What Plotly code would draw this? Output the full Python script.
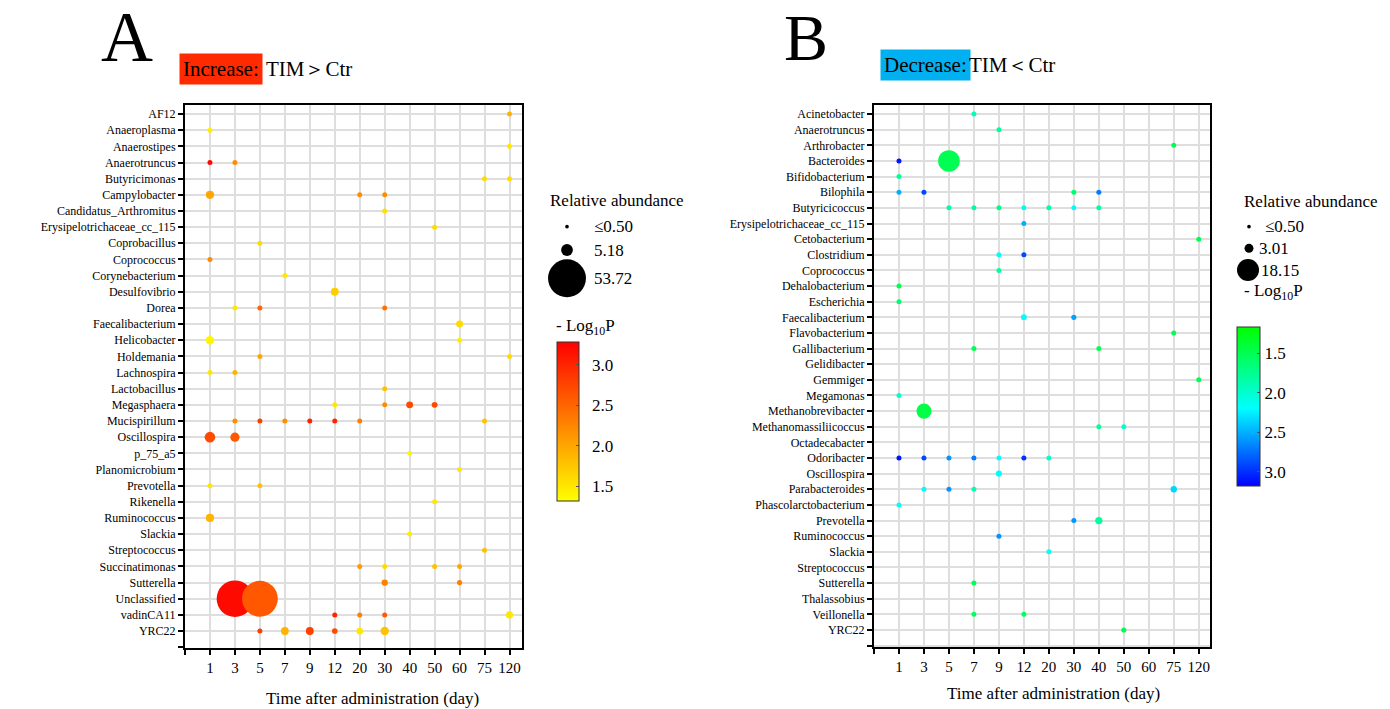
import plotly.graph_objects as go

FONT = "Liberation Serif"
W, H = 1390, 709

days = ["1", "3", "5", "7", "9", "12", "20", "30", "40", "50", "60", "75", "120"]

# ---------------- Panel A (increase) ----------------
a_genera = ["AF12", "Anaeroplasma", "Anaerostipes", "Anaerotruncus", "Butyricimonas",
            "Campylobacter", "Candidatus_Arthromitus", "Erysipelotrichaceae_cc_115",
            "Coprobacillus", "Coprococcus", "Corynebacterium", "Desulfovibrio", "Dorea",
            "Faecalibacterium", "Helicobacter", "Holdemania", "Lachnospira", "Lactobacillus",
            "Megasphaera", "Mucispirillum", "Oscillospira", "p_75_a5", "Planomicrobium",
            "Prevotella", "Rikenella", "Ruminococcus", "Slackia", "Streptococcus",
            "Succinatimonas", "Sutterella", "Unclassified", "vadinCA11", "YRC22"]

a_pt_genus = ["AF12", "Anaeroplasma", "Anaerostipes", "Anaerotruncus", "Anaerotruncus",
              "Butyricimonas", "Butyricimonas", "Campylobacter", "Campylobacter", "Campylobacter",
              "Candidatus_Arthromitus", "Erysipelotrichaceae_cc_115", "Coprobacillus",
              "Coprococcus", "Corynebacterium", "Desulfovibrio", "Dorea", "Dorea", "Dorea",
              "Faecalibacterium", "Helicobacter", "Helicobacter", "Holdemania", "Holdemania",
              "Lachnospira", "Lachnospira", "Lactobacillus", "Megasphaera", "Megasphaera",
              "Megasphaera", "Megasphaera", "Mucispirillum", "Mucispirillum", "Mucispirillum",
              "Mucispirillum", "Mucispirillum", "Mucispirillum", "Mucispirillum",
              "Oscillospira", "Oscillospira", "p_75_a5", "Planomicrobium", "Prevotella",
              "Prevotella", "Rikenella", "Ruminococcus", "Slackia", "Streptococcus",
              "Succinatimonas", "Succinatimonas", "Succinatimonas", "Succinatimonas",
              "Sutterella", "Sutterella", "Unclassified", "Unclassified", "vadinCA11",
              "vadinCA11", "vadinCA11", "vadinCA11", "YRC22", "YRC22", "YRC22", "YRC22",
              "YRC22", "YRC22"]
a_pt_day = ["120", "1", "120", "1", "3",
            "75", "120", "1", "20", "30",
            "30", "50", "5",
            "1", "7", "12", "3", "5", "30",
            "60", "1", "60", "5", "120",
            "1", "3", "30", "12", "30",
            "40", "50", "3", "5", "7",
            "9", "12", "20", "75",
            "1", "3", "40", "60", "1",
            "5", "50", "1", "40", "75",
            "20", "30", "50", "60",
            "30", "60", "3", "5", "12",
            "20", "30", "120", "5", "7", "9", "12",
            "20", "30"]
a_pt_abund = [0.4, 0.3, 0.35, 0.35, 0.35,
              0.35, 0.35, 2.5, 0.9, 0.9,
              0.35, 0.35, 0.35,
              0.35, 0.35, 2.3, 0.35, 0.5, 0.35,
              1.8, 2.6, 0.7, 0.4, 0.35,
              0.3, 0.3, 0.4, 0.3, 0.3,
              1.8, 1.3, 0.6, 0.5, 0.35,
              0.4, 0.4, 0.5, 0.5,
              4.2, 3.2, 0.35, 0.3, 0.3,
              0.3, 0.3, 2.5, 0.3, 0.3,
              0.5, 0.4, 0.25, 0.3,
              1.5, 1.0, 50.0, 48.0, 0.3,
              0.3, 0.5, 1.9, 0.9, 2.3, 2.3, 1.2,
              1.7, 2.6]
a_pt_logp = [1.9, 1.45, 1.5, 3.2, 2.2,
             1.6, 1.6, 2.0, 2.2, 2.2,
             1.55, 1.6, 1.6,
             2.2, 1.5, 1.7, 1.5, 2.5, 2.4,
             1.6, 1.4, 1.45, 2.0, 1.6,
             1.5, 1.9, 1.8, 1.5, 2.2,
             2.7, 2.7, 2.2, 2.8, 2.2,
             3.0, 3.0, 2.3, 1.8,
             2.7, 2.6, 1.4, 1.5, 1.5,
             1.8, 1.5, 1.9, 1.45, 1.8,
             2.1, 1.6, 1.8, 2.0,
             2.3, 2.3, 3.2, 2.6, 3.0,
             2.3, 2.6, 1.5, 2.8, 1.9, 2.8, 2.7,
             1.5, 1.8]

# ---------------- Panel B (decrease) ----------------
b_genera = ["Acinetobacter", "Anaerotruncus", "Arthrobacter", "Bacteroides", "Bifidobacterium",
            "Bilophila", "Butyricicoccus", "Erysipelotrichaceae_cc_115", "Cetobacterium",
            "Clostridium", "Coprococcus", "Dehalobacterium", "Escherichia", "Faecalibacterium",
            "Flavobacterium", "Gallibacterium", "Gelidibacter", "Gemmiger", "Megamonas",
            "Methanobrevibacter", "Methanomassiliicoccus", "Octadecabacter", "Odoribacter",
            "Oscillospira", "Parabacteroides", "Phascolarctobacterium", "Prevotella",
            "Ruminococcus", "Slackia", "Streptococcus", "Sutterella", "Thalassobius",
            "Veillonella", "YRC22"]

b_pt_genus = ["Acinetobacter", "Anaerotruncus", "Arthrobacter", "Bacteroides", "Bacteroides",
              "Bifidobacterium", "Bilophila", "Bilophila", "Bilophila", "Bilophila",
              "Butyricicoccus", "Butyricicoccus", "Butyricicoccus", "Butyricicoccus",
              "Butyricicoccus", "Butyricicoccus", "Butyricicoccus",
              "Erysipelotrichaceae_cc_115", "Cetobacterium", "Clostridium", "Clostridium",
              "Coprococcus", "Dehalobacterium", "Escherichia", "Faecalibacterium",
              "Faecalibacterium", "Flavobacterium", "Gallibacterium", "Gallibacterium",
              "Gemmiger", "Megamonas", "Methanobrevibacter", "Methanomassiliicoccus",
              "Methanomassiliicoccus", "Odoribacter", "Odoribacter", "Odoribacter",
              "Odoribacter", "Odoribacter", "Odoribacter", "Odoribacter", "Oscillospira",
              "Parabacteroides", "Parabacteroides", "Parabacteroides", "Parabacteroides",
              "Phascolarctobacterium", "Prevotella", "Prevotella", "Ruminococcus", "Slackia",
              "Sutterella", "Veillonella", "Veillonella", "YRC22"]
b_pt_day = ["7", "9", "75", "1", "5",
            "1", "1", "3", "30", "40",
            "5", "7", "9", "12",
            "20", "30", "40",
            "12", "120", "9", "12",
            "9", "1", "1", "12",
            "30", "75", "7", "40",
            "120", "1", "3", "40",
            "50", "1", "3", "5",
            "7", "9", "12", "20", "9",
            "3", "5", "7", "75",
            "1", "30", "40", "9", "20",
            "7", "7", "12", "50"]
b_pt_abund = [0.5, 0.4, 0.4, 0.9, 17.5,
              0.4, 0.35, 0.35, 0.4, 0.4,
              0.4, 0.4, 0.5, 0.4,
              0.5, 0.4, 0.5,
              0.4, 0.5, 0.4, 0.45,
              0.4, 0.45, 0.45, 1.3,
              1.0, 0.4, 0.45, 0.5,
              0.45, 0.35, 8.5, 0.45,
              0.45, 0.45, 0.4, 0.4,
              0.4, 0.35, 0.4, 0.35, 1.4,
              0.35, 0.4, 0.4, 1.5,
              0.35, 0.4, 2.0, 0.5, 0.35,
              0.4, 0.4, 0.4, 1.0]
b_pt_logp = [1.9, 1.8, 1.5, 3.1, 1.5,
             1.8, 2.5, 2.9, 1.6, 2.7,
             1.8, 1.8, 1.7, 2.1,
             1.8, 2.2, 1.8,
             2.5, 1.5, 2.2, 2.9,
             1.8, 1.5, 1.6, 2.2,
             2.55, 1.5, 1.5, 1.5,
             1.5, 2.0, 1.45, 1.8,
             2.0, 3.1, 2.9, 2.6,
             2.7, 2.2, 3.0, 2.0, 2.2,
             2.2, 2.6, 1.9, 2.35,
             2.15, 2.6, 1.8, 2.6, 2.15,
             1.5, 1.55, 1.55, 1.5]

size_legend_a = [0.5, 5.18, 53.72]
size_legend_a_text = ["≤0.50", "5.18", "53.72"]
size_legend_b = [0.5, 3.01, 18.15]
size_legend_b_text = ["≤0.50", "3.01", "18.15"]

SIZEREF = 0.0748  # diameter ~ 5.17*sqrt(abundance)

fig = go.Figure()

ax_a = dict(x0=185, x1=522, y0=105, y1=648)
ax_b = dict(x0=874, x1=1210, y0=105, y1=646.7)


def px(x):
    return x / W


def py(y):
    return 1 - y / H


# Panel A bubbles
fig.add_trace(go.Scatter(
    x=[days.index(d) for d in a_pt_day],
    y=[a_genera.index(g) for g in a_pt_genus],
    mode="markers", xaxis="x", yaxis="y", showlegend=False, hoverinfo="skip",
    marker=dict(size=a_pt_abund, sizemode="area", sizeref=SIZEREF, sizemin=2.5,
                color=a_pt_logp, cmin=1.32, cmax=3.28,
                colorscale=[[0, "#ffff00"], [1, "#ff0000"]],
                line=dict(width=0), opacity=1,
                showscale=True,
                colorbar=dict(x=px(556.7), xanchor="left", xpad=0, ypad=0,
                              y=py(421.5), yanchor="middle", len=159, lenmode="pixels",
                              thickness=22, outlinecolor="#333", outlinewidth=1,
                              tickvals=[1.5, 2.0, 2.5, 3.0],
                              ticktext=["\u00a0\u00a01.5", "\u00a0\u00a02.0",
                                        "\u00a0\u00a02.5", "\u00a0\u00a03.0"],
                              ticks="inside", ticklen=3, tickcolor="#555",
                              tickfont=dict(family=FONT, size=17, color="black")))
))

# Panel B bubbles (color = log10 P so that 1.5 is on top of the colour bar)
fig.add_trace(go.Scatter(
    x=[days.index(d) for d in b_pt_day],
    y=[b_genera.index(g) for g in b_pt_genus],
    mode="markers", xaxis="x2", yaxis="y2", showlegend=False, hoverinfo="skip",
    marker=dict(size=b_pt_abund, sizemode="area", sizeref=SIZEREF, sizemin=2.5,
                color=[-v for v in b_pt_logp], cmin=-3.18, cmax=-1.17,
                colorscale=[[0, "#0000ff"], [0.49, "#00ffff"], [1, "#00ff00"]],
                line=dict(width=0), opacity=1,
                showscale=True,
                colorbar=dict(x=px(1237), xanchor="left", xpad=0, ypad=0,
                              y=py(406.7), yanchor="middle", len=159, lenmode="pixels",
                              thickness=23, outlinecolor="#333", outlinewidth=1,
                              tickvals=[-1.5, -2.0, -2.5, -3.0], ticktext=["1.5", "2.0", "2.5", "3.0"],
                              ticks="inside", ticklen=3, tickcolor="#555",
                              tickfont=dict(family=FONT, size=17, color="black")))
))

# Size legends (overlay axis in paper units)
leg_a_x = [px(567)] * 3
leg_a_y = [py(226.7), py(250), py(278.3)]
leg_b_x = [px(1249), px(1249), px(1248)]
leg_b_y = [py(226.7), py(248.3), py(270)]
fig.add_trace(go.Scatter(
    x=leg_a_x + leg_b_x, y=leg_a_y + leg_b_y, mode="markers", xaxis="x3", yaxis="y3",
    showlegend=False, hoverinfo="skip",
    marker=dict(size=size_legend_a + size_legend_b, sizemode="area", sizeref=SIZEREF,
                color="black", opacity=1, line=dict(width=0))))

common_axis = dict(showline=True, linecolor="black", linewidth=2, mirror=True,
                   ticks="outside", ticklen=5, tickwidth=1.5, tickcolor="black",
                   showgrid=True, gridcolor="#dedede", gridwidth=1.5, zeroline=False,
                   fixedrange=True)

fig.update_layout(
    width=W, height=H, margin=dict(l=0, r=0, t=0, b=0),
    paper_bgcolor="white", plot_bgcolor="rgba(0,0,0,0)",
    font=dict(family=FONT, color="black"),
    xaxis=dict(domain=[px(ax_a["x0"]), px(ax_a["x1"])], range=[-1, 12.5],
               tickvals=list(range(-1, 13)), ticktext=[""] + days,
               tickfont=dict(size=15), anchor="y", **common_axis),
    yaxis=dict(domain=[py(ax_a["y1"]), py(ax_a["y0"])], range=[33.05, -0.56],
               tickvals=list(range(len(a_genera) + 1)), ticktext=a_genera + [""],
               tickfont=dict(size=12), anchor="x", **common_axis),
    xaxis2=dict(domain=[px(ax_b["x0"]), px(ax_b["x1"])], range=[-1, 12.45],
                tickvals=list(range(-1, 13)), ticktext=[""] + days,
                tickfont=dict(size=15), anchor="y2", **common_axis),
    yaxis2=dict(domain=[py(ax_b["y1"]), py(ax_b["y0"])], range=[34.07, -0.58],
                tickvals=list(range(len(b_genera) + 1)), ticktext=b_genera + [""],
                tickfont=dict(size=12), anchor="x2", **common_axis),
    xaxis3=dict(domain=[0, 1], range=[0, 1], visible=False, fixedrange=True, anchor="y3"),
    yaxis3=dict(domain=[0, 1], range=[0, 1], visible=False, fixedrange=True, anchor="x3"),
)

ann = []
# Panel letters
ann.append(dict(text="A", x=px(127), y=py(37), xref="paper", yref="paper",
                xanchor="center", yanchor="middle", showarrow=False,
                font=dict(family=FONT, size=72, color="black")))
ann.append(dict(text="B", x=px(805.5), y=py(37), xref="paper", yref="paper",
                xanchor="center", yanchor="middle", showarrow=False,
                font=dict(family=FONT, size=66, color="black")))
# Headers
ann.append(dict(text="Increase:", x=px(179), y=py(69), xref="paper", yref="paper",
                xanchor="left", yanchor="middle", showarrow=False, bgcolor="#ff2a00",
                borderpad=3, font=dict(family=FONT, size=21, color="black")))
ann.append(dict(text="TIM＞Ctr", x=px(264), y=py(69), xref="paper", yref="paper",
                xanchor="left", yanchor="middle", showarrow=False,
                font=dict(family=FONT, size=21, color="black")))
ann.append(dict(text="Decrease:", x=px(880), y=py(65.3), xref="paper", yref="paper",
                xanchor="left", yanchor="middle", showarrow=False, bgcolor="#00b0f0",
                borderpad=3, font=dict(family=FONT, size=21, color="black")))
ann.append(dict(text="TIM＜Ctr", x=px(967), y=py(65.3), xref="paper", yref="paper",
                xanchor="left", yanchor="middle", showarrow=False,
                font=dict(family=FONT, size=21, color="black")))
# Axis titles
ann.append(dict(text="Time after administration (day)", x=px(372), y=py(698), xref="paper",
                yref="paper", xanchor="center", yanchor="middle", showarrow=False,
                font=dict(family=FONT, size=17, color="black")))
ann.append(dict(text="Time after administration (day)", x=px(1053), y=py(693), xref="paper",
                yref="paper", xanchor="center", yanchor="middle", showarrow=False,
                font=dict(family=FONT, size=17, color="black")))
# Size legend titles and labels
ann.append(dict(text="Relative abundance", x=px(548), y=py(200), xref="paper", yref="paper",
                xanchor="left", yanchor="middle", showarrow=False,
                font=dict(family=FONT, size=17, color="black")))
ann.append(dict(text="Relative abundance", x=px(1242), y=py(201.7), xref="paper", yref="paper",
                xanchor="left", yanchor="middle", showarrow=False,
                font=dict(family=FONT, size=17, color="black")))
for t, yy in zip(size_legend_a_text, leg_a_y):
    ann.append(dict(text=t, x=px(592), y=yy, xref="paper", yref="paper",
                    xanchor="left", yanchor="middle", showarrow=False,
                    font=dict(family=FONT, size=17, color="black")))
for t, yy, xx in zip(size_legend_b_text, leg_b_y, [1263, 1257, 1259]):
    ann.append(dict(text=t, x=px(xx), y=yy, xref="paper", yref="paper",
                    xanchor="left", yanchor="middle", showarrow=False,
                    font=dict(family=FONT, size=17, color="black")))
ann.append(dict(text="- Log<sub>10</sub>P", x=px(554), y=py(327), xref="paper", yref="paper",
                xanchor="left", yanchor="middle", showarrow=False,
                font=dict(family=FONT, size=17, color="black")))
ann.append(dict(text="- Log<sub>10</sub>P", x=px(1242), y=py(292), xref="paper", yref="paper",
                xanchor="left", yanchor="middle", showarrow=False,
                font=dict(family=FONT, size=17, color="black")))

fig.update_layout(annotations=ann)

fig.write_html("out.html")
